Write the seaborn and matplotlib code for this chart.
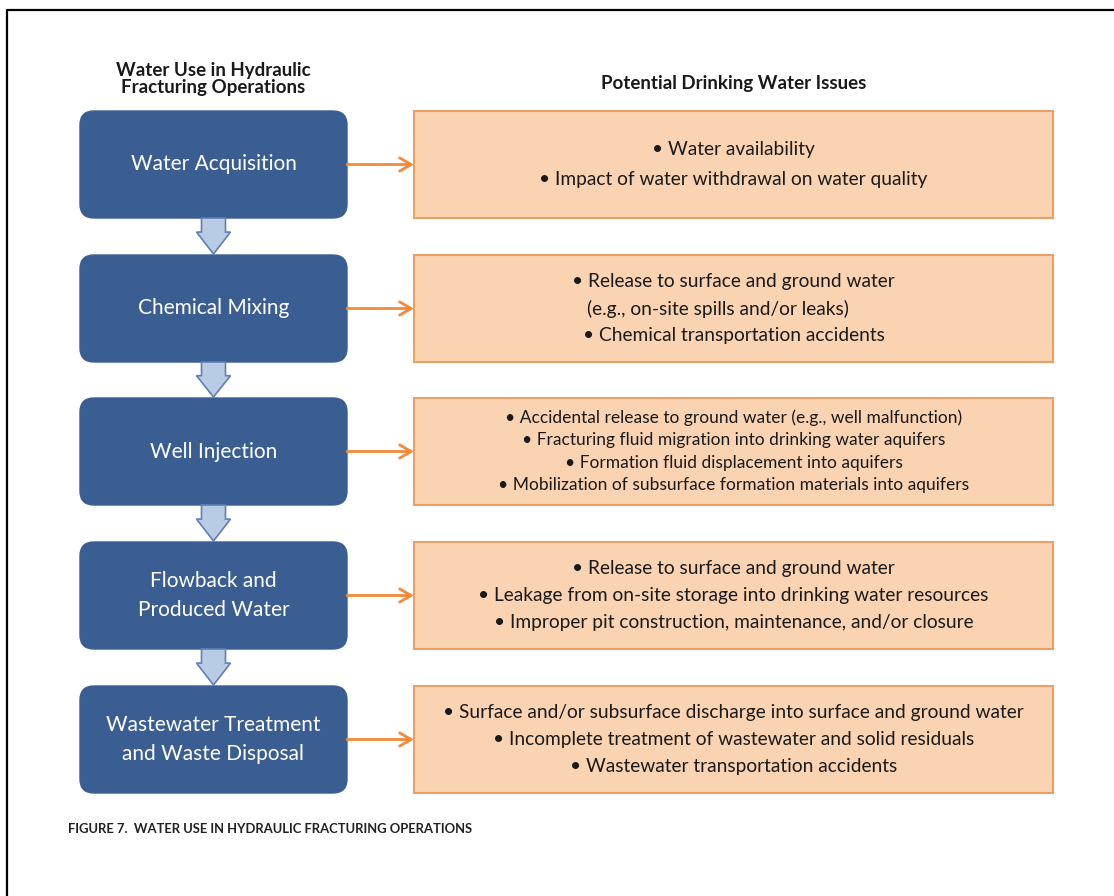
import matplotlib
matplotlib.use("Agg")
import matplotlib.pyplot as plt
from matplotlib.patches import FancyBboxPatch, Rectangle, Polygon
import seaborn as sns

# flowchart content
steps = ["Water Acquisition", "Chemical Mixing", "Well Injection",
         "Flowback and\nProduced Water", "Wastewater Treatment\nand Waste Disposal"]
issues = [
    ["\u2022 Water availability",
     "\u2022 Impact of water withdrawal on water quality"],
    ["\u2022 Release to surface and ground water",
     "(e.g., on-site spills and/or leaks)",
     "\u2022 Chemical transportation accidents"],
    ["\u2022 Accidental release to ground water (e.g., well malfunction)",
     "\u2022 Fracturing fluid migration into drinking water aquifers",
     "\u2022 Formation fluid displacement into aquifers",
     "\u2022 Mobilization of subsurface formation materials into aquifers"],
    ["\u2022 Release to surface and ground water",
     "\u2022 Leakage from on-site storage into drinking water resources",
     "\u2022 Improper pit construction, maintenance, and/or closure"],
    ["\u2022 Surface and/or subsurface discharge into surface and ground water",
     "\u2022 Incomplete treatment of wastewater and solid residuals",
     "\u2022 Wastewater transportation accidents"],
]
left_header = "Water Use in Hydraulic\nFracturing Operations"
right_header = "Potential Drinking Water Issues"
caption = "FIGURE 7.  WATER USE IN HYDRAULIC FRACTURING OPERATIONS"

# layout (pixels)
W, H = 1114, 896
row_top = [111, 255, 398, 542, 686]
row_h = 107
lx0, lx1 = 80, 347
rx0, rx1 = 414, 1053

sns.set_theme(style="white")
plt.rcParams['font.family'] = ['Lato', 'DejaVu Sans']

fig = plt.figure(figsize=(W / 100, H / 100), dpi=100)
ax = fig.add_axes([0, 0, 1, 1])
ax.set_xlim(0, W)
ax.set_ylim(H, 0)
ax.axis("off")

blue = "#3A5E92"
peach = "#FAD3B2"
orange_edge = "#E9A066"
orange = "#F28A3A"
text_dark = "#1a1a1a"

# page frame (top and left edges)
ax.plot([7, W], [10, 10], color="black", lw=1.6)
ax.plot([7, 7], [10, H], color="black", lw=1.6)

lcx = (lx0 + lx1) / 2
rcx = (rx0 + rx1) / 2

ax.text(lcx, 79, left_header, ha="center", va="center", fontsize=13.5,
        fontweight="bold", color=text_dark, linespacing=1.0)
ax.text(rcx, 83, right_header, ha="center", va="center", fontsize=13.5,
        fontweight="bold", color=text_dark)

for i, (top, step, lines) in enumerate(zip(row_top, steps, issues)):
    cy = top + row_h / 2
    box = FancyBboxPatch((lx0, top), lx1 - lx0, row_h,
                         boxstyle="round,pad=0,rounding_size=14",
                         fc=blue, ec=blue, lw=1)
    ax.add_patch(box)
    ax.text(lcx, cy, step, ha="center", va="center", color="white",
            fontsize=15, linespacing=1.55)

    ax.add_patch(Rectangle((rx0, top), rx1 - rx0, row_h, fc=peach,
                           ec=orange_edge, lw=1.5))
    n = len(lines)
    small = n >= 4
    fs = 12.5 if small else 13.8
    gap = 22.5 if small else (27 if n == 3 else 30)
    for j, line in enumerate(lines):
        y = cy + (j - (n - 1) / 2) * gap
        x = rcx - 16 if line.startswith("(") else rcx
        ax.text(x, y, line, ha="center", va="center", fontsize=fs,
                color=text_dark)

    # orange connector
    ax.annotate("", xy=(rx0, cy), xytext=(lx1, cy),
                arrowprops=dict(arrowstyle="->,head_length=0.7,head_width=0.4",
                                color=orange, lw=2, shrinkA=0, shrinkB=0))

    # down block arrow to the next step
    if i < len(steps) - 1:
        y0 = top + row_h
        y1 = row_top[i + 1]
        ym = y0 + (y1 - y0) * 0.38
        sw, hw = 12, 17
        pts = [(lcx - sw, y0), (lcx + sw, y0), (lcx + sw, ym), (lcx + hw, ym),
               (lcx, y1 - 1), (lcx - hw, ym), (lcx - sw, ym)]
        ax.add_patch(Polygon(pts, closed=True, fc="#B8CCE6", ec="#5F80B4",
                             lw=1.2, zorder=3))

ax.text(68, 829, caption, ha="left", va="center", fontsize=9.4,
        fontweight="bold", color="#222222")

fig.savefig("out.png", dpi=100)
